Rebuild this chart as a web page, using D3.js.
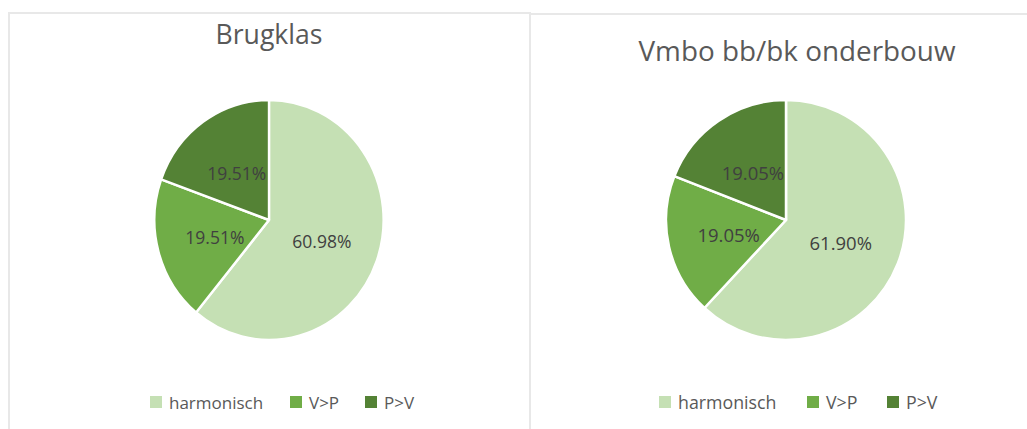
<!DOCTYPE html>
<html><head><meta charset="utf-8">
<script src="https://cdn.jsdelivr.net/npm/d3@7"></script>
<style>
html,body{margin:0;padding:0;background:#fff;}
svg{display:block;}
text{font-family:"Open Sans","DejaVu Sans",sans-serif;}
</style></head>
<body>
<svg id="c" width="1027" height="429"></svg>
<script>
const categories = ["harmonisch", "V>P", "P>V"];
const colors = ["#C5E0B4", "#70AD47", "#548235"];
const titles = ["Brugklas", "Vmbo bb/bk onderbouw"];
const valuesBrugklas = [60.98, 19.51, 19.51];
const valuesVmbo = [61.90, 19.05, 19.05];
const labelsBrugklas = ["60.98%", "19.51%", "19.51%"];
const labelsVmbo = ["61.90%", "19.05%", "19.05%"];

const svg = d3.select("#c");

// frames
svg.append("rect").attr("x", 8).attr("y", 12).attr("width", 523).attr("height", 2).attr("fill", "#e8e8e8");
svg.append("rect").attr("x", 8).attr("y", 12).attr("width", 2).attr("height", 417).attr("fill", "#e8e8e8");
svg.append("rect").attr("x", 529).attr("y", 12).attr("width", 2).attr("height", 417).attr("fill", "#e8e8e8");
svg.append("rect").attr("x", 531).attr("y", 13).attr("width", 496).attr("height", 2).attr("fill", "#e8e8e8");

const panels = [
  {title: titles[0], values: valuesBrugklas, labels: labelsBrugklas, cx: 269, cy: 220, r: 120, sx: 0.955,
   titleX: 269, titleY: 44, titleSize: 27, titleLen: 107, labelSize: 17.5, legendSize: 17,
   legendX: 150, offsets: [0, 140, 215]},
  {title: titles[1], values: valuesVmbo, labels: labelsVmbo, cx: 786, cy: 220, r: 120, sx: 1.0,
   titleX: 797, titleY: 61, titleSize: 27, titleLen: 317, labelSize: 18.5, legendSize: 17.8,
   legendX: 659, offsets: [0, 148, 228]}
];

const pie = d3.pie().sort(null).value(d => d);
const color = d3.scaleOrdinal().domain(categories).range(colors);

panels.forEach(p => {
  const g = svg.append("g");
  g.append("text").attr("x", p.titleX - p.titleLen / 2).attr("y", p.titleY)
    .attr("textLength", p.titleLen).attr("lengthAdjust", "spacingAndGlyphs")
    .attr("font-size", p.titleSize).attr("fill", "#595959").text(p.title);

  const arcs = pie(p.values);
  const arc = d3.arc().innerRadius(0).outerRadius(p.r);
  const labelArc = d3.arc().innerRadius(p.r * 0.49).outerRadius(p.r * 0.49);
  const pg = g.append("g").attr("transform", `translate(${p.cx},${p.cy}) scale(${p.sx},1)`);
  pg.selectAll("path").data(arcs).join("path")
    .attr("d", arc)
    .attr("fill", (d, i) => color(categories[i]))
    .attr("stroke", "#fff").attr("stroke-width", 2.5).attr("stroke-linejoin", "round");
  const lg = g.append("g").attr("transform", `translate(${p.cx},${p.cy})`);
  lg.selectAll("text").data(arcs).join("text")
    .attr("x", d => labelArc.centroid(d)[0] * p.sx)
    .attr("y", d => labelArc.centroid(d)[1] + 2)
    .attr("dy", "0.35em")
    .attr("text-anchor", "middle")
    .attr("font-size", p.labelSize).attr("fill", "#404040")
    .text((d, i) => p.labels[i]);

  // legend
  const leg = g.append("g").attr("transform", `translate(${p.legendX},396)`);
  categories.forEach((c, i) => {
    const it = leg.append("g").attr("transform", `translate(${p.offsets[i]},0)`);
    it.append("rect").attr("width", 12).attr("height", 12).attr("fill", color(c));
    it.append("text").attr("x", 19).attr("y", 12.5).attr("font-size", p.legendSize).attr("fill", "#595959").text(c);
  });
});
</script>
</body></html>
